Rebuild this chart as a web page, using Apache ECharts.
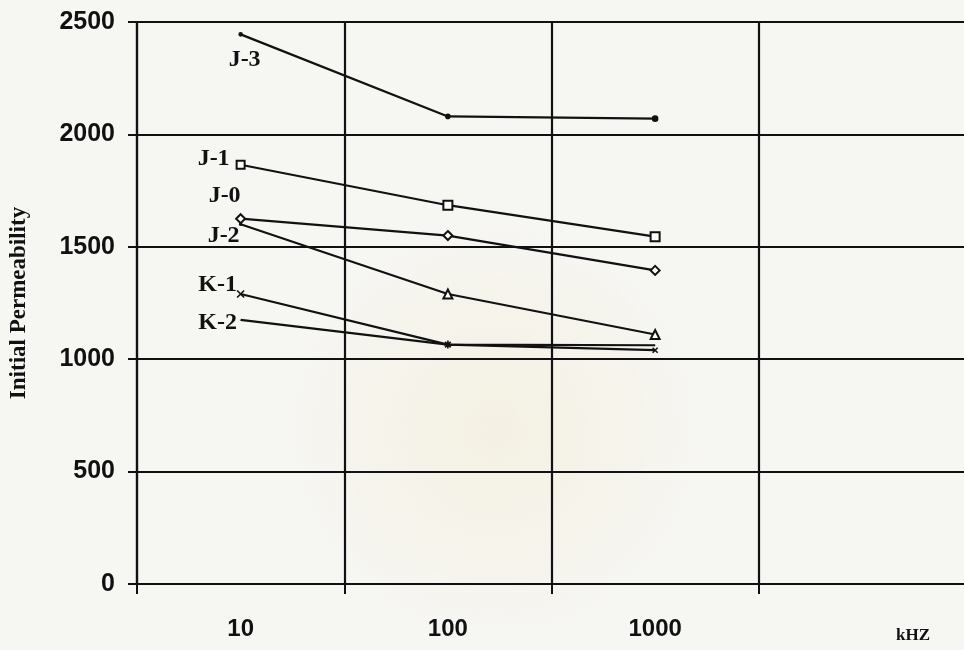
<!DOCTYPE html>
<html>
<head>
<meta charset="utf-8">
<script src="https://cdn.jsdelivr.net/npm/echarts@6/dist/echarts.min.js"></script>
<style>
  html, body { margin: 0; padding: 0; background: #f6f6f3; }
  #chart { width: 964px; height: 650px; }
</style>
</head>
<body>
<div id="chart"></div>
<script>
// Frequency categories (kHz); the last band is an empty decade
const categories = ['10', '100', '1000', ''];
const yTicks = [0, 500, 1000, 1500, 2000, 2500];

// Initial permeability per sample at 10, 100, 1000 kHz
const sampleJ3 = [2445, 2080, 2070];
const sampleJ1 = [1865, 1685, 1545];
const sampleJ0 = [1625, 1550, 1395];
const sampleJ2 = [1600, 1290, 1110];
const sampleK1 = [1290, 1065, 1040];
const sampleK2 = [1175, 1065, 1062];

const seriesNames = ['J-3', 'J-1', 'J-0', 'J-2', 'K-1', 'K-2'];
const seriesValues = [sampleJ3, sampleJ1, sampleJ0, sampleJ2, sampleK1, sampleK2];

// Marker shapes and name-label offsets for each sample
const crossPath = 'path://M0,0L10,10M10,0L0,10';
const starPath = 'path://M5,0L5,10M0,5L10,5M1.5,1.5L8.5,8.5M8.5,1.5L1.5,8.5';
const styleBySeries = {
  'J-3': { symbols: ['circle', 'circle', 'circle'], sizes: [3, 4, 5], offset: [4, 25] },
  'J-1': { symbols: ['emptyRect', 'emptyRect', 'emptyRect'], sizes: [8, 9, 9], offset: [-27, -6] },
  'J-0': { symbols: ['emptyDiamond', 'emptyDiamond', 'emptyDiamond'], sizes: [9, 9, 9], offset: [-16, -23] },
  'J-2': { symbols: ['circle', 'emptyTriangle', 'emptyTriangle'], sizes: [2, 9, 9], offset: [-17, 11] },
  'K-1': { symbols: [crossPath, starPath, crossPath], sizes: [7, 8, 5], offset: [-23, -9] },
  'K-2': { symbols: ['circle', 'circle', 'circle'], sizes: [0.1, 0.1, 0.1], offset: [-23, 3] }
};

const ink = '#111';
const numFont = '"Liberation Sans", Arial, sans-serif';
const serifFont = '"Liberation Serif", "Times New Roman", serif';

const series = seriesNames.map(function (name, i) {
  const st = styleBySeries[name];
  return {
    name: name,
    type: 'line',
    data: seriesValues[i].map(function (v, j) {
      const item = { value: v, symbol: st.symbols[j], symbolSize: st.sizes[j] };
      if (j === 0) {
        item.label = {
          show: true,
          position: 'inside',
          offset: st.offset,
          formatter: name,
          color: ink,
          fontFamily: serifFont,
          fontWeight: 'bold',
          fontSize: 24
        };
      }
      return item;
    }),
    showAllSymbol: true,
    lineStyle: { color: ink, width: 2.2 },
    itemStyle: { color: ink, borderColor: ink, borderWidth: 1.6 },
    symbolKeepAspect: true,
    label: { show: false },
    emphasis: { disabled: true },
    animation: false,
    z: 3
  };
});

const chart = echarts.init(document.getElementById('chart'), null, { renderer: 'canvas' });
chart.setOption({
  backgroundColor: '#f6f6f3',
  animation: false,
  grid: { left: 137, right: -2, top: 22, bottom: 66, containLabel: false, outerBoundsMode: 'none' },
  xAxis: {
    type: 'category',
    data: categories,
    boundaryGap: true,
    axisLine: { show: true, lineStyle: { color: ink, width: 2.2 } },
    axisTick: { show: true, length: 10, inside: false, lineStyle: { color: ink, width: 2 } },
    splitLine: { show: true, lineStyle: { color: ink, width: 2.2 } },
    axisLabel: {
      color: ink, fontFamily: numFont, fontWeight: 'bold', fontSize: 24, margin: 33
    }
  },
  yAxis: {
    type: 'value',
    min: yTicks[0],
    max: yTicks[yTicks.length - 1],
    interval: 500,
    name: 'Initial Permeability',
    nameLocation: 'middle',
    nameRotate: 90,
    nameGap: 106,
    nameTextStyle: { color: ink, fontFamily: serifFont, fontWeight: 'bold', fontSize: 23 },
    axisLine: { show: true, lineStyle: { color: ink, width: 2.2 } },
    axisTick: { show: true, length: 9, lineStyle: { color: ink, width: 2 } },
    splitLine: { show: true, lineStyle: { color: ink, width: 2.2 } },
    axisLabel: {
      color: ink, fontFamily: numFont, fontWeight: 'bold', fontSize: 25, margin: 22,
      formatter: function (v) { return String(v); }
    }
  },
  graphic: [
    {
      // faint emblem tint printed on the page behind the plot
      type: 'circle',
      z: -10,
      silent: true,
      shape: { cx: 495, cy: 430, r: 230 },
      style: {
        fill: {
          type: 'radial', x: 0.5, y: 0.5, r: 0.5,
          colorStops: [
            { offset: 0, color: 'rgba(238, 222, 170, 0.22)' },
            { offset: 0.65, color: 'rgba(242, 232, 196, 0.14)' },
            { offset: 1, color: 'rgba(246, 246, 243, 0)' }
          ]
        }
      }
    },
    {
      type: 'text',
      left: 896,
      top: 627,
      style: { text: 'kHZ', fill: ink, font: 'bold 17px ' + serifFont }
    }
  ],
  series: series
});
</script>
</body>
</html>
